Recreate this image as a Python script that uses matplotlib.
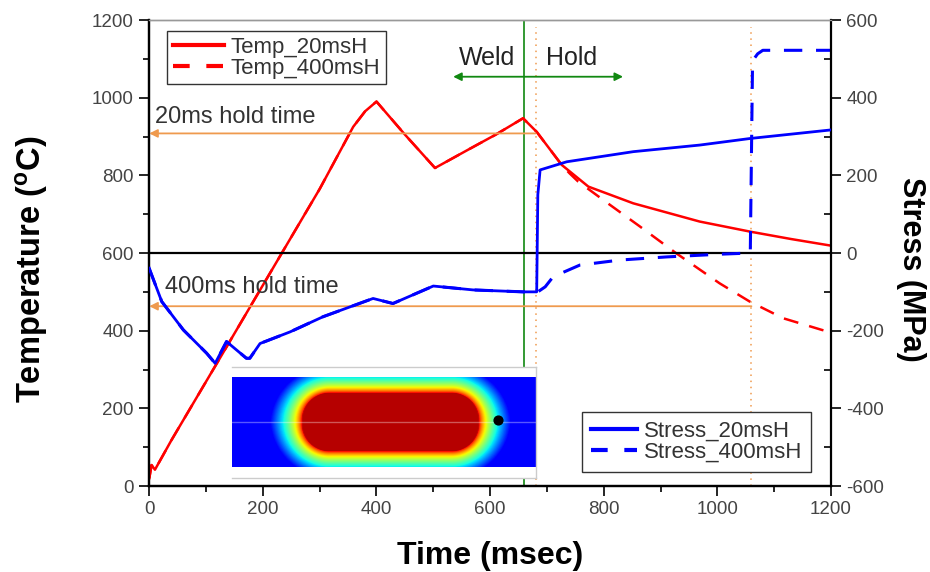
import numpy as np
import matplotlib
matplotlib.use("Agg")
import matplotlib.pyplot as plt
from matplotlib.lines import Line2D

plt.rcParams['font.family'] = ['Liberation Sans', 'DejaVu Sans']
plt.rcParams['axes.unicode_minus'] = False

# -----------------------------
# DATA
# -----------------------------
# Temperature, 20 ms hold (degC)
t_temp20 = [0, 4, 10, 39, 119, 233, 300, 359, 380, 400, 450, 503, 560, 610, 658,
            682, 726, 773, 852, 969, 1058, 1130, 1200]
temp20 = [20, 54, 42, 118, 316, 599, 765, 925, 965, 990, 905, 819, 865, 905, 947,
          912, 827, 771, 728, 681, 655, 636, 619]

# Temperature, 400 ms hold: same as 20 ms up to ~740 ms, then cools further
t_temp400 = [0, 4, 10, 39, 119, 233, 300, 359, 380, 400, 450, 503, 560, 610, 658,
             682, 726, 740, 755, 811, 864, 928, 1004, 1057, 1116, 1184, 1200]
temp400 = [20, 54, 42, 118, 316, 599, 765, 925, 965, 990, 905, 819, 865, 905, 947,
           912, 827, 805, 784, 724, 668, 599, 522, 475, 432, 402, 396]

# Stress, 20 ms hold (MPa)
t_stress20 = [0, 1, 22, 60, 101, 116, 136, 171, 177, 195, 248, 306, 394, 429, 500,
              570, 658, 682, 684, 688, 735, 852, 969, 1058, 1200]
stress20 = [-39, -44, -125, -198, -258, -284, -228, -271, -271, -233, -203, -164,
            -117, -130, -85, -95, -100, -100, 150, 214, 235, 261, 278, 295, 317]

# Stress, 400 ms hold (MPa)
t_stress400 = [0, 1, 22, 60, 101, 116, 136, 171, 177, 195, 248, 306, 394, 429, 500,
               570, 658, 684, 697, 711, 758, 829, 911, 1005, 1058, 1062, 1071, 1080, 1200]
stress400 = [-39, -44, -125, -198, -258, -284, -228, -271, -271, -233, -203, -164,
             -117, -130, -85, -95, -100, -100, -87, -61, -31, -18, -10, -3, 0,
             495, 513, 522, 522]

WELD_END = 660
HOLD_END_20 = 680
HOLD_END_400 = 1060
T_HOLD_20 = 908
T_HOLD_400 = 463

RED = '#ff0000'
BLUE = '#0000ff'
ORANGE = '#ef9a4e'
GREEN = '#118811'
TICK_COLOR = '#444444'

# -----------------------------
# FIGURE
# -----------------------------
fig = plt.figure(figsize=(9.3, 5.72), dpi=100)
ax = fig.add_axes([0.1605, 0.1503, 0.733, 0.8147])
ax2 = ax.twinx()

ax.set_xlim(0, 1200)
ax.set_ylim(0, 1200)
ax2.set_ylim(-600, 600)

# lines
ax.plot(t_temp400, temp400, color=RED, lw=1.8, dashes=(6, 4.5), zorder=2)
ax.plot(t_temp20, temp20, color=RED, lw=1.8, zorder=3)
ax2.plot(t_stress400, stress400, color=BLUE, lw=2.2, dashes=(6, 4.5), zorder=2)
ax2.plot(t_stress20, stress20, color=BLUE, lw=2.0, zorder=3)

ax2.axhline(0, color='black', lw=1.6, zorder=1)

# weld / hold markers
ax.axvline(WELD_END, color=GREEN, lw=1.2, zorder=1)
ax.axvline(HOLD_END_20, ymax=0.985, color=ORANGE, lw=1.1, ls=(0, (1, 3)), zorder=1)
ax.axvline(HOLD_END_400, ymax=0.985, color=ORANGE, lw=1.1, ls=(0, (1, 3)), zorder=1)

ax.annotate('', xy=(535, 1054), xytext=(834, 1054),
            arrowprops=dict(arrowstyle='<|-|>', color=GREEN, lw=1.3,
                            mutation_scale=12, shrinkA=0, shrinkB=0))
ax.text(595, 1084, 'Weld', ha='center', va='baseline', fontsize=18, color='#222222')
ax.text(743, 1084, 'Hold', ha='center', va='baseline', fontsize=18, color='#222222')

ax.annotate('', xy=(0, T_HOLD_20), xytext=(HOLD_END_20, T_HOLD_20),
            arrowprops=dict(arrowstyle='-|>', color=ORANGE, lw=1.3,
                            mutation_scale=12, shrinkA=0, shrinkB=0))
ax.annotate('', xy=(0, T_HOLD_400), xytext=(HOLD_END_400, T_HOLD_400),
            arrowprops=dict(arrowstyle='-|>', color=ORANGE, lw=1.3,
                            mutation_scale=12, shrinkA=0, shrinkB=0))
ax.text(10, 934, '20ms hold time', fontsize=17, color='#333333', va='baseline')
ax.text(28, 496, '400ms hold time', fontsize=17, color='#333333', va='baseline')

# -----------------------------
# AXES STYLE
# -----------------------------
ax.set_xticks(range(0, 1201, 200))
ax.set_xticks(range(0, 1201, 100), minor=True)
ax.set_yticks(range(0, 1201, 200))
ax.set_yticks(range(0, 1201, 100), minor=True)
ax2.set_yticks(range(-600, 601, 200))
ax2.set_yticks(range(-600, 601, 100), minor=True)

for a in (ax, ax2):
    a.tick_params(which='major', direction='out', length=7, width=1.2,
                  labelsize=13.5, labelcolor=TICK_COLOR, pad=4)
    a.tick_params(which='minor', direction='out', length=4, width=1.2)
    a.spines['top'].set_color('#999999')
    a.spines['top'].set_linewidth(1.0)
    for s in ('left', 'right', 'bottom'):
        a.spines[s].set_linewidth(1.6)
ax2.tick_params(which='minor', direction='in', length=5)
ax.spines['right'].set_visible(False)

ax.set_xlabel('Time (msec)', fontsize=23, fontweight='bold', labelpad=16)
ax.set_ylabel('Temperature ($\\mathregular{^{o}}$C)', fontsize=23.5, fontweight='bold',
              labelpad=30, y=0.466)
ax2.set_ylabel('Stress (MPa)', fontsize=22, fontweight='bold', rotation=270,
               labelpad=30, y=0.464)

# -----------------------------
# LEGENDS
# -----------------------------
h_temp = [Line2D([], [], color=RED, lw=3),
          Line2D([], [], color=RED, lw=3, dashes=(4, 4))]
h_stress = [Line2D([], [], color=BLUE, lw=3),
            Line2D([], [], color=BLUE, lw=3, dashes=(4, 4))]
leg_kw = dict(borderaxespad=0, fontsize=16, fancybox=False, framealpha=1,
              edgecolor='#333333', handlelength=2.3, handletextpad=0.3,
              labelspacing=0.0, borderpad=0.25)
leg1 = ax2.legend(h_temp, ['Temp_20msH', 'Temp_400msH'], loc='upper left',
                  bbox_to_anchor=(0.026, 0.976), **leg_kw)
leg1.get_frame().set_linewidth(1.0)
for txt in leg1.get_texts():
    txt.set_color('#333333')
ax2.add_artist(leg1)
leg2 = ax2.legend(h_stress, ['Stress_20msH', 'Stress_400msH'], loc='lower right',
                  bbox_to_anchor=(0.971, 0.03),
                  **{**leg_kw, 'borderpad': 0.4, 'handlelength': 2.1})
leg2.get_frame().set_linewidth(1.0)
for txt in leg2.get_texts():
    txt.set_color('#333333')

# -----------------------------
# INSET: weld nugget temperature field (illustration)
# -----------------------------
W, H = 304, 90
u = np.arange(W) + 0.5
v = np.arange(H) + 0.5
X, Y = np.meshgrid(u - 158, v - 45)
a_half, b_half, rad = 88, 29, 27
qx = np.maximum(np.abs(X) - (a_half - rad), 0)
qy = np.maximum(np.abs(Y) - (b_half - rad), 0)
dist = np.hypot(qx, qy)
d_out = np.maximum(dist - rad, 0)
vert = qy / (dist + 1e-9)
d_eff = d_out * (1 + 0.2 * vert)
field = 1 - np.clip(d_eff / 32, 0, 1) ** 0.65
cval = 0.12 + 0.83 * field

ax_in = fig.add_axes([0.2491, 0.1643, 0.3269, 0.1946])
ax_in.imshow(cval, cmap='jet', vmin=0, vmax=1, extent=(0, W, 0, H),
             origin='lower', aspect='auto', interpolation='bilinear')
ax_in.plot([0, W], [45, 45], color='white', alpha=0.35, lw=1)
ax_in.scatter([266], [47], s=40, color='black', zorder=5)
ax_in.set_xlim(0, W)
ax_in.set_ylim(-11, 101)
ax_in.set_xticks([])
ax_in.set_yticks([])
ax_in.spines['left'].set_visible(False)
for s in ('top', 'bottom', 'right'):
    ax_in.spines[s].set_color('#cccccc')
    ax_in.spines[s].set_linewidth(1.0)

fig.savefig('out.png', dpi=100)
